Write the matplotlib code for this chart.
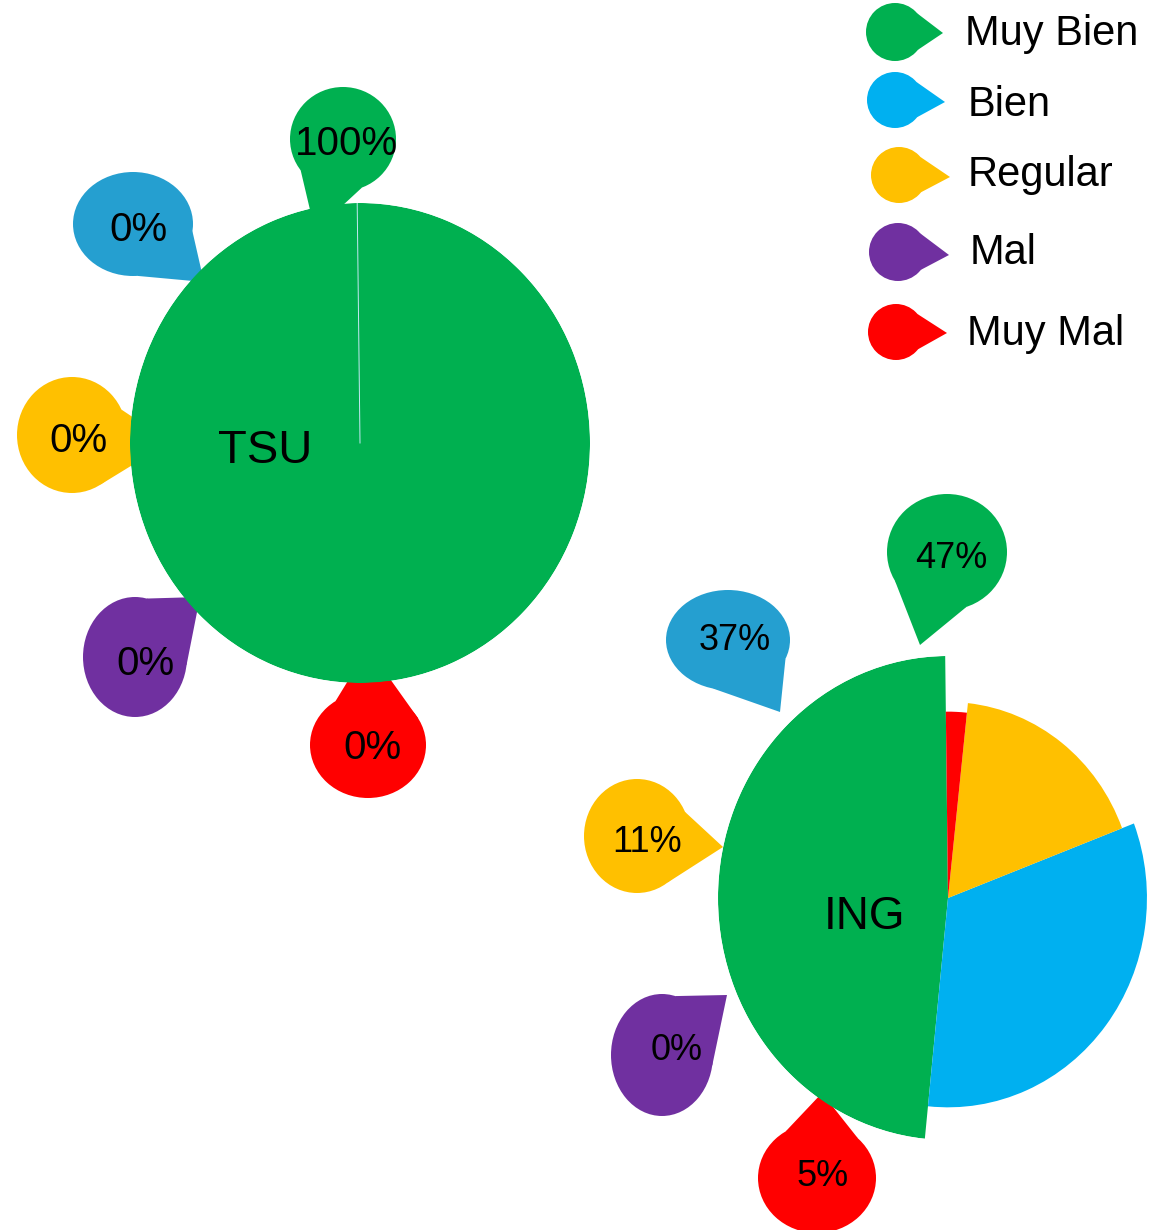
import numpy as np
import matplotlib
matplotlib.use("Agg")
import matplotlib.pyplot as plt
from matplotlib.patches import Ellipse, Polygon

plt.rcParams['font.family'] = ['Liberation Sans', 'DejaVu Sans']

# ---------------- data ----------------
categories = ['Muy Bien', 'Bien', 'Regular', 'Mal', 'Muy Mal']
groups = ['TSU', 'ING']
tsu_share = [100.0, 0.0, 0.0, 0.0, 0.0]
ing_share = [48.2, 32.4, 17.5, 0.0, 1.9]      # slice sizes as drawn
tsu_labels = ['100%', '0%', '0%', '0%', '0%']
ing_labels = ['47%', '37%', '11%', '0%', '5%']

# ---------------- styles ----------------
slice_colors = ['#00B050', '#00B0F0', '#FFC000', '#7030A0', '#FF0000']
callout_colors = ['#00B050', '#259FD0', '#FFC000', '#7030A0', '#FF0000']
ing_radius = [1.0, 0.865, 0.81, 0.78, 0.77]
tsu_radius = [1.0, 1.0, 1.0, 1.0, 1.0]
start_deg = 90.7
dy = 3  # text vertical nudge (pixels)

W, H = 1166, 1230
fig = plt.figure(figsize=(W / 100, H / 100), dpi=100)
fig.patch.set_facecolor('white')

base = fig.add_axes([0, 0, 1, 1])
base.set_xlim(0, W)
base.set_ylim(H, 0)
base.set_axis_off()


def callout(ax, cx, cy, rx, ry, tip, ta, tb, color):
    ax.add_patch(Ellipse((cx, cy), 2 * rx, 2 * ry, facecolor=color,
                         edgecolor='none'))
    pa = (cx + rx * np.cos(np.radians(ta)), cy + ry * np.sin(np.radians(ta)))
    pb = (cx + rx * np.cos(np.radians(tb)), cy + ry * np.sin(np.radians(tb)))
    ax.add_patch(Polygon([tip, pa, pb], closed=True, facecolor=color,
                         edgecolor='none'))


# callout layout (pixel coordinates): cx, cy, rx, ry, tip, attach angles, text pos
tsu_callouts = [
    (343, 139, 53, 52, (315, 231), 143, 69, (346, 141)),
    (133, 224, 60, 52, (204, 282), 8, 86, (138, 227)),
    (72, 435, 55, 58, (170, 442), -26, 59, (78, 438)),
    (135, 657, 52, 60, (200, 597), -77, 8, (145, 661)),
    (368, 745, 58, 53, (368, 648), -124, -30, (372, 745)),
]
ing_callouts = [
    (947, 552, 60, 58, (920, 645), 150, 71, (951, 556)),
    (728, 640, 62, 50, (780, 712), 22, 104, (735, 638)),
    (637, 836, 53, 57, (723, 847), -25, 55, (647, 840)),
    (662, 1055, 51, 61, (727, 995), -75, 10, (677, 1048)),
    (817, 1178, 59, 55, (822, 1093), -122, -46, (823, 1173)),
]

for i, (cx, cy, rx, ry, tip, ta, tb, tp) in enumerate(tsu_callouts):
    callout(base, cx, cy, rx, ry, tip, ta, tb, callout_colors[i])
    base.text(tp[0], tp[1] + dy, tsu_labels[i], ha='center', va='center',
              fontsize=29, color='black')

for i, (cx, cy, rx, ry, tip, ta, tb, tp) in enumerate(ing_callouts):
    callout(base, cx, cy, rx, ry, tip, ta, tb, callout_colors[i])
    base.text(tp[0], tp[1] + dy, ing_labels[i], ha='center', va='center',
              fontsize=26, color='black')

# legend
legend_items = [
    (895, 32, 29, (943, 33), (965, 31)),
    (895, 100, 28, (945, 102), (968, 102)),
    (899, 175, 28, (950, 177), (968, 172)),
    (898, 252, 29, (949, 255), (970, 250)),
    (896, 332, 28, (947, 333), (967, 331)),
]
for i, (cx, cy, r, tip, tp) in enumerate(legend_items):
    callout(base, cx, cy, r, r, tip, -40, 38, slice_colors[i])
    base.text(tp[0], tp[1] + dy, categories[i], ha='left', va='center',
              fontsize=30, color='black')


def pie_axes(cx, cy, rx, ry):
    ax = fig.add_axes([(cx - rx) / W, (H - (cy + ry)) / H, 2 * rx / W, 2 * ry / H],
                      projection='polar')
    ax.set_aspect('auto')
    ax.set_facecolor('none')
    ax.set_axis_off()
    ax.set_ylim(0, 1)
    return ax


def draw_pie(ax, shares, radii):
    shares = np.asarray(shares, dtype=float)
    widths = 2 * np.pi * shares / shares.sum()
    starts = np.radians(start_deg) + np.concatenate([[0], np.cumsum(widths)[:-1]])
    ax.bar(starts, radii, width=widths, align='edge', color=slice_colors,
           edgecolor='none', linewidth=0)
    return starts


ax_tsu = pie_axes(360, 443, 230, 240)
st = draw_pie(ax_tsu, tsu_share, tsu_radius)
ax_tsu.plot([st[1], st[1]], [0, 1], color='#c4e8f3', lw=0.7)
ax_tsu.set_ylim(0, 1)

ax_ing = pie_axes(948, 898, 230, 242)
draw_pie(ax_ing, ing_share, ing_radius)
ax_ing.set_ylim(0, 1)

fig.text(265 / W, 1 - (448 + dy) / H, groups[0], ha='center', va='center',
         fontsize=34, color='black')
fig.text(864 / W, 1 - (914 + dy) / H, groups[1], ha='center', va='center',
         fontsize=33, color='black')

fig.savefig('out.png', dpi=100, facecolor='white')
